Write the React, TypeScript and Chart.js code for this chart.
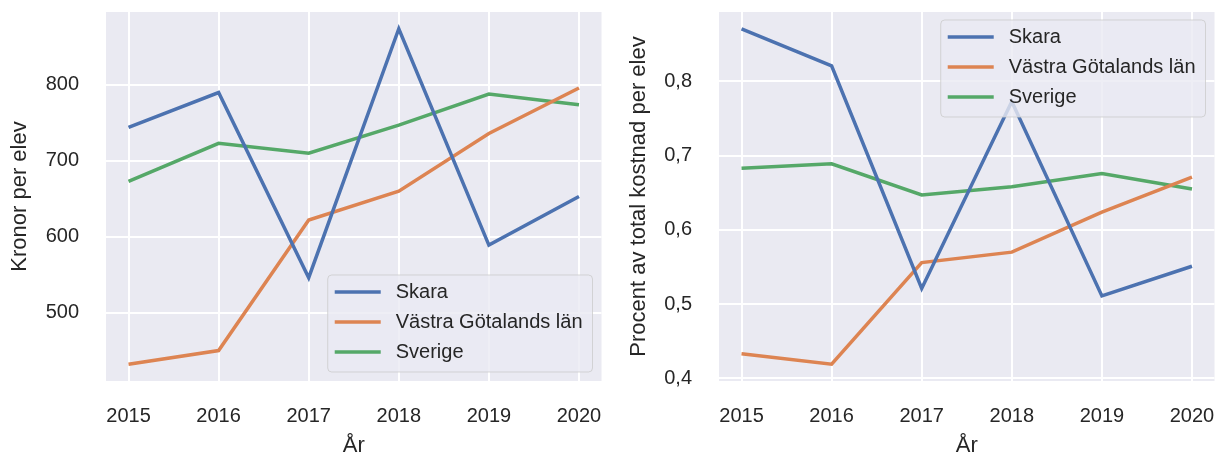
import React, { useEffect, useRef } from "react";
import { Chart, registerables } from "chart.js";

Chart.register(...registerables);

const YEARS = [2015, 2016, 2017, 2018, 2019, 2020];
const SERIES_NAMES = ["Skara", "Västra Götalands län", "Sverige"];
const SERIES_COLORS = ["#4C72B0", "#DD8452", "#55A868"];

const KRONOR_SKARA = [744, 790, 546, 874, 589, 653];
const KRONOR_VG = [432, 450, 622, 660, 736, 796];
const KRONOR_SVERIGE = [673, 723, 710, 747, 788, 774];

const PROCENT_SKARA = [0.871, 0.821, 0.521, 0.773, 0.511, 0.551];
const PROCENT_VG = [0.433, 0.419, 0.556, 0.57, 0.624, 0.671];
const PROCENT_SVERIGE = [0.683, 0.689, 0.647, 0.658, 0.676, 0.655];

const X_TICK_LABELS = ["2015", "2016", "2017", "2018", "2019", "2020"];
const KRONOR_TICKS = [500, 600, 700, 800];
const KRONOR_TICK_LABELS = ["500", "600", "700", "800"];
const PROCENT_TICKS = [0.4, 0.5, 0.6, 0.7, 0.8];
const PROCENT_TICK_LABELS = ["0,4", "0,5", "0,6", "0,7", "0,8"];

const X_TITLE = "År";
const LEFT_Y_TITLE = "Kronor per elev";
const RIGHT_Y_TITLE = "Procent av total kostnad per elev";

const FONT = '"Liberation Sans", Arial, sans-serif';
const TEXT = "#262626";
const BG = "#EAEAF2";

const bgPlugin = {
  id: "plotBg",
  beforeDraw(chart: any) {
    const { ctx, chartArea } = chart;
    ctx.save();
    ctx.fillStyle = BG;
    ctx.fillRect(chartArea.left, chartArea.top, chartArea.right - chartArea.left, chartArea.bottom - chartArea.top);
    ctx.restore();
  },
};

const legendPlugin = {
  id: "insideLegend",
  afterDatasetsDraw(chart: any, _args: any, opts: any) {
    const { ctx, chartArea } = chart;
    const items = chart.data.datasets;
    ctx.save();
    ctx.font = `20px ${FONT}`;
    const maxW = Math.max(...items.map((d: any) => ctx.measureText(d.label).width));
    const w = 7 + 46 + 15 + maxW + 10;
    const h = 97;
    const x = chartArea.right - 9 - w;
    const y = opts.corner === "lower" ? chartArea.bottom - 9 - h : chartArea.top + 8;
    const r = 4;
    ctx.beginPath();
    ctx.moveTo(x + r, y);
    ctx.lineTo(x + w - r, y);
    ctx.quadraticCurveTo(x + w, y, x + w, y + r);
    ctx.lineTo(x + w, y + h - r);
    ctx.quadraticCurveTo(x + w, y + h, x + w - r, y + h);
    ctx.lineTo(x + r, y + h);
    ctx.quadraticCurveTo(x, y + h, x, y + h - r);
    ctx.lineTo(x, y + r);
    ctx.quadraticCurveTo(x, y, x + r, y);
    ctx.closePath();
    ctx.fillStyle = "rgba(234,234,242,0.8)";
    ctx.fill();
    ctx.strokeStyle = "rgba(204,204,204,0.8)";
    ctx.lineWidth = 1;
    ctx.stroke();
    items.forEach((d: any, i: number) => {
      const cy = y + 17 + 30 * i;
      ctx.beginPath();
      ctx.moveTo(x + 7, cy);
      ctx.lineTo(x + 53, cy);
      ctx.strokeStyle = d.borderColor;
      ctx.lineWidth = 3.5;
      ctx.lineCap = "butt";
      ctx.stroke();
      ctx.fillStyle = TEXT;
      ctx.textBaseline = "middle";
      ctx.textAlign = "left";
      ctx.fillText(d.label, x + 68, cy);
    });
    ctx.restore();
  },
};

function makeConfig(
  series: number[][],
  yTicks: number[],
  yLabels: string[],
  yTitle: string,
  yAxisWidth: number,
  titlePad: number,
  padRight: number,
  corner: string
): any {
  const all = series.flat();
  const lo = Math.min(...all);
  const hi = Math.max(...all);
  const m = (hi - lo) * 0.05;
  const xm = (YEARS[YEARS.length - 1] - YEARS[0]) * 0.05;
  return {
    type: "line",
    data: {
      datasets: series.map((vals, i) => ({
        label: SERIES_NAMES[i],
        data: YEARS.map((yr, j) => ({ x: yr, y: vals[j] })),
        borderColor: SERIES_COLORS[i],
        backgroundColor: SERIES_COLORS[i],
        borderWidth: 3.5,
        pointRadius: 0,
        tension: 0,
        fill: false,
      })),
    },
    options: {
      responsive: false,
      animation: false,
      layout: { padding: { top: 12, right: padRight, bottom: 0, left: 0 } },
      plugins: {
        legend: { display: false },
        tooltip: { enabled: false },
        insideLegend: { corner },
      },
      scales: {
        x: {
          type: "linear",
          min: YEARS[0] - xm,
          max: YEARS[YEARS.length - 1] + xm,
          bounds: "data",
          afterBuildTicks: (s: any) => {
            s.ticks = YEARS.map((v) => ({ value: v }));
          },
          afterFit: (s: any) => {
            s.height = 78;
            s.paddingLeft = 0;
            s.paddingRight = 0;
            s.paddingTop = 0;
            s.paddingBottom = 0;
          },
          ticks: {
            callback: (_v: any, i: number) => X_TICK_LABELS[i],
            color: TEXT,
            font: { family: FONT, size: 20 },
            padding: 23,
            maxRotation: 0,
            autoSkip: false,
          },
          grid: { color: "#ffffff", lineWidth: 2, drawTicks: false },
          border: { display: false },
          title: {
            display: true,
            text: X_TITLE,
            color: TEXT,
            font: { family: FONT, size: 22 },
            padding: { top: 0, bottom: 0 },
          },
        },
        y: {
          type: "linear",
          min: lo - m,
          max: hi + m,
          bounds: "data",
          afterBuildTicks: (s: any) => {
            s.ticks = yTicks.map((v) => ({ value: v }));
          },
          afterFit: (s: any) => {
            s.width = yAxisWidth;
            s.paddingLeft = 0;
            s.paddingRight = 0;
            s.paddingTop = 0;
            s.paddingBottom = 0;
          },
          ticks: {
            callback: (_v: any, i: number) => yLabels[i],
            color: TEXT,
            font: { family: FONT, size: 20 },
            padding: 27,
            autoSkip: false,
          },
          grid: { color: "#ffffff", lineWidth: 2, drawTicks: false },
          border: { display: false },
          title: {
            display: true,
            text: yTitle,
            color: TEXT,
            font: { family: FONT, size: 22 },
            padding: { top: titlePad, bottom: 0 },
          },
        },
      },
    },
    plugins: [bgPlugin, legendPlugin],
  };
}

function ChartCanvas(props: { config: any; left: number; width: number }) {
  const ref = useRef<HTMLCanvasElement | null>(null);
  useEffect(() => {
    if (!ref.current) return;
    const chart = new Chart(ref.current, props.config);
    return () => chart.destroy();
  }, []);
  return (
    <canvas
      ref={ref}
      width={props.width}
      height={459}
      style={{ position: "absolute", left: props.left, top: 0, width: props.width, height: 459, display: "block" }}
    />
  );
}

export default function App() {
  const leftCfg = makeConfig(
    [KRONOR_SKARA, KRONOR_VG, KRONOR_SVERIGE],
    KRONOR_TICKS,
    KRONOR_TICK_LABELS,
    LEFT_Y_TITLE,
    106,
    7,
    6.5,
    "lower"
  );
  const rightCfg = makeConfig(
    [PROCENT_SKARA, PROCENT_VG, PROCENT_SVERIGE],
    PROCENT_TICKS,
    PROCENT_TICK_LABELS,
    RIGHT_Y_TITLE,
    111,
    18,
    2.5,
    "upper"
  );
  return (
    <div style={{ position: "absolute", left: 0, top: 0, width: 1217, height: 459, background: "#ffffff" }}>
      <ChartCanvas config={leftCfg} left={0} width={608} />
      <ChartCanvas config={rightCfg} left={608} width={609} />
    </div>
  );
}
